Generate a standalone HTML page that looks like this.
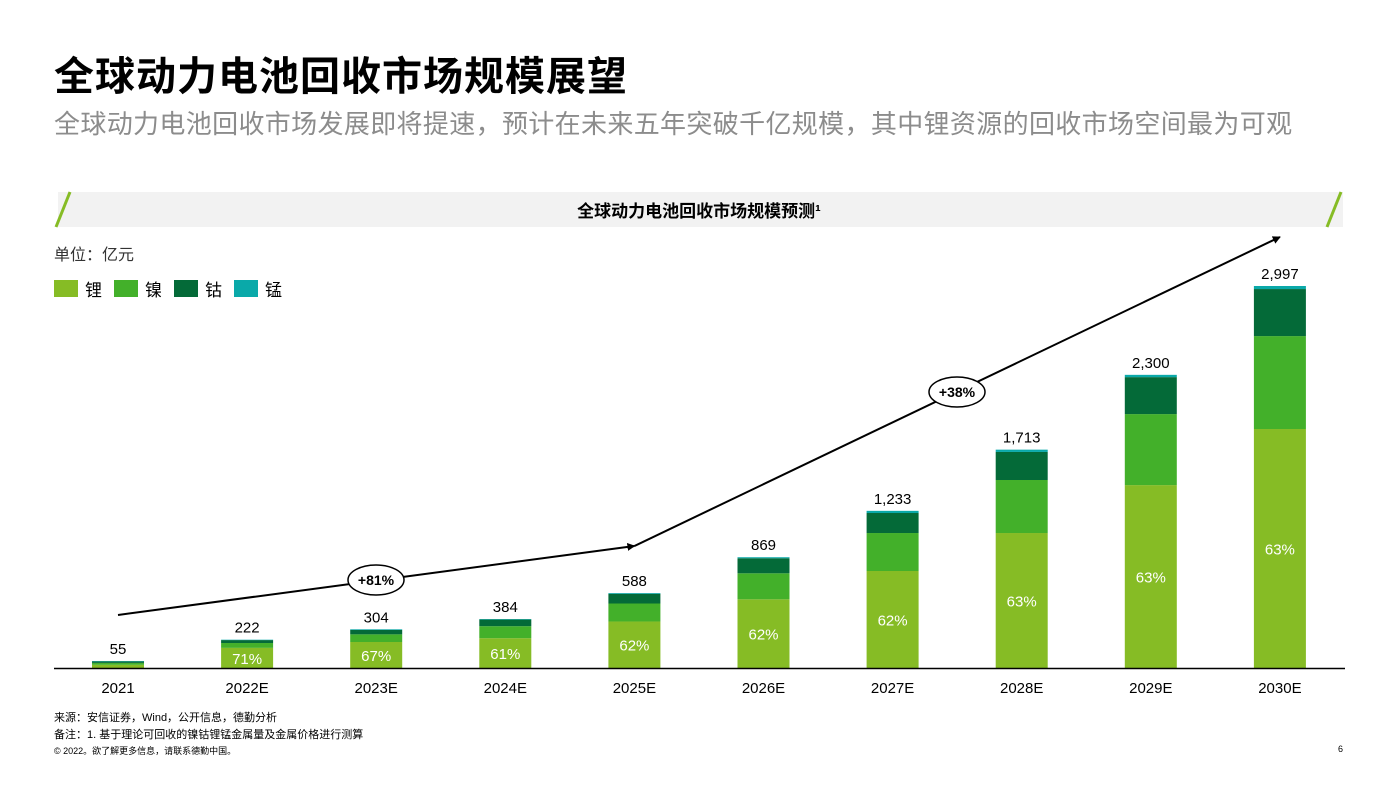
<!DOCTYPE html>
<html><head><meta charset="utf-8">
<style>
body{margin:0;background:#fff;font-family:"Liberation Sans","Noto Sans CJK SC",sans-serif;}
#root{position:relative;width:1399px;height:787px;overflow:hidden;}
.t{position:absolute;white-space:nowrap;}
</style></head><body>
<div id="root">
<div class="t" style="left:54px;top:44px;font-size:40px;font-weight:bold;color:#000;letter-spacing:1px;">全球动力电池回收市场规模展望</div>
<div class="t" style="left:54px;top:104px;font-size:26px;color:#8c8c8c;letter-spacing:0.35px;">全球动力电池回收市场发展即将提速，预计在未来五年突破千亿规模，其中锂资源的回收市场空间最为可观</div>
<svg id="chart" width="1399" height="787" style="position:absolute;left:0;top:0;" font-family="Liberation Sans, Noto Sans CJK SC, sans-serif"></svg>
<div class="t" style="left:54px;top:709px;font-size:11px;color:#000;">来源：安信证券，Wind，公开信息，德勤分析</div>
<div class="t" style="left:54px;top:726px;font-size:11px;color:#000;">备注：1. 基于理论可回收的镍钴锂锰金属量及金属价格进行测算</div>
<div class="t" style="left:54px;top:744px;font-size:9px;color:#000;">© 2022。欲了解更多信息，请联系德勤中国。</div>
<div class="t" style="left:1338px;top:744px;font-size:9px;color:#000;">6</div>
</div>
<script>
const categories=["2021","2022E","2023E","2024E","2025E","2026E","2027E","2028E","2029E","2030E"];
const totals=[55,222,304,384,588,869,1233,1713,2300,2997];
const totalLabels=["55","222","304","384","588","869","1,233","1,713","2,300","2,997"];
const lithium=[25,158,204,234,365,539,761,1059,1435,1875];
const nickel=[15,38,60,94,141,204,298,416,557,729];
const cobalt=[12,23,35,52,76,118,157,220,290,369];
const manganese=[3,3,5,4,6,8,17,18,18,24];
const pctLabels=["","71%","67%","61%","62%","62%","62%","63%","63%","63%"];
const growthLabels=["+81%","+38%"];

const NS="http://www.w3.org/2000/svg";
const svg=document.getElementById('chart');
function mk(tag,attrs,parent){const e=document.createElementNS(NS,tag);for(const k in attrs)e.setAttribute(k,attrs[k]);(parent||svg).appendChild(e);return e;}
const baseY=668,pxPer=382/2997;
const y=v=>baseY-v*pxPer;
const x=i=>118+i*129.1;
const bw=52;

let e=mk('rect',{x:58,y:192,width:1285,height:35,fill:'#f2f2f2'});

e=mk('line',{x1:56,y1:227,x2:70,y2:192,stroke:'#86bc25','stroke-width':3});

e=mk('line',{x1:1327,y1:227,x2:1341,y2:192,stroke:'#86bc25','stroke-width':3});

e=mk('text',{x:699,y:217,'text-anchor':'middle','font-size':17,'font-weight':'bold',fill:'#000'});
e.textContent='全球动力电池回收市场规模预测¹';

e=mk('text',{x:54,y:260,'font-size':16,fill:'#333'});e.textContent='单位：亿元';


const series=[["锂",lithium,'#86bc25'],["镍",nickel,'#43b02a'],["钴",cobalt,'#046a38'],["锰",manganese,'#0aa9a9']];
series.forEach((s,k)=>{
  const lx=54+k*60;
  let r=mk('rect',{x:lx,y:280,width:24,height:17,fill:s[2]});
  
  let t=mk('text',{x:lx+31,y:296,'font-size':17,fill:'#000'});t.textContent=s[0];
  
});

categories.forEach((c,i)=>{
  let acc=0;
  series.forEach(s=>{
    const v=s[1][i];
    const r=mk('rect',{x:x(i)-bw/2,y:y(acc+v),width:bw,height:v*pxPer,fill:s[2]});
    
    
    acc+=v;
  });
  let t=mk('text',{x:x(i),y:y(totals[i])-7,'text-anchor':'middle','font-size':15,fill:'#000'});
  t.textContent=totalLabels[i];
  
  if(pctLabels[i]){
    const ly=Math.min((y(lithium[i])+baseY)/2+6,baseY-3);
    t=mk('text',{x:x(i),y:ly,'text-anchor':'middle','font-size':15,fill:'#fff'});
    t.textContent=pctLabels[i];
    
  }
  t=mk('text',{x:x(i),y:693,'text-anchor':'middle','font-size':15,fill:'#000'});
  t.textContent=c;
  
});
e=mk('line',{x1:54,y1:baseY+0.5,x2:1345,y2:baseY+0.5,stroke:'#000','stroke-width':1.5});


mk('defs',{}).innerHTML='<marker id="ah" markerWidth="8" markerHeight="8" refX="7" refY="4" orient="auto" markerUnits="userSpaceOnUse"><path d="M0,0 L8,4 L0,8 z" fill="#000"/></marker>';
e=mk('line',{x1:x(0),y1:615,x2:x(4),y2:546,stroke:'#000','stroke-width':2,'marker-end':'url(#ah)'});

e=mk('line',{x1:x(4),y1:546,x2:x(9),y2:237,stroke:'#000','stroke-width':2,'marker-end':'url(#ah)'});

[[376,580,growthLabels[0]],[957,392,growthLabels[1]]].forEach(g=>{
  let el=mk('ellipse',{cx:g[0],cy:g[1],rx:28,ry:15,fill:'#fff',stroke:'#000','stroke-width':1.5});
  
  let t=mk('text',{x:g[0],y:g[1]+5,'text-anchor':'middle','font-size':14,'font-weight':'bold',fill:'#000'});
  t.textContent=g[2];
  
});
</script>
</body></html>
